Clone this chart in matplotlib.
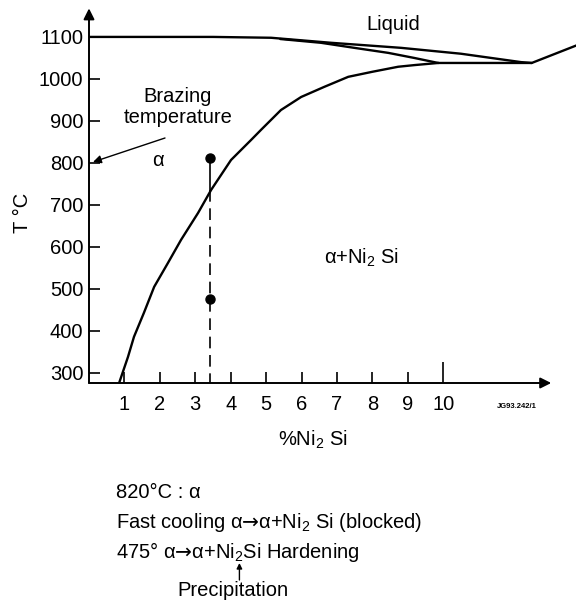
import numpy as np
import matplotlib
matplotlib.use("Agg")
import matplotlib.pyplot as plt

plt.rcParams['font.family'] = ['Liberation Sans', 'DejaVu Sans']
plt.rcParams['mathtext.fontset'] = 'custom'
plt.rcParams['mathtext.rm'] = 'Liberation Sans'
plt.rcParams['mathtext.sf'] = 'DejaVu Sans'
plt.rcParams['mathtext.default'] = 'regular'

# liquidus (upper line) and solidus (lower branch) near the top
liq_x = [0.0, 1.5, 3.5, 5.14, 6.84, 8.81, 10.5, 12.2, 12.5]
liq_T = [1100, 1100, 1100, 1098, 1086, 1074, 1060, 1040, 1038]
sol_x = [5.4, 6.55, 7.49, 8.45, 9.18, 9.86]
sol_T = [1095, 1086, 1074, 1062, 1050, 1038]
# eutectic horizontal + right rising branch
eut_x = [9.86, 12.5, 13.8]
eut_T = [1038, 1038, 1081]
# solvus of Ni2Si in alpha
solv_x = [0.85, 1.10, 1.27, 1.55, 1.84, 2.23, 2.60, 3.08, 3.45, 4.01, 4.58, 4.86,
          5.42, 5.99, 6.64, 7.32, 8.0, 8.73, 9.2, 9.86]
solv_T = [276, 338, 386, 443, 505, 562, 617, 681, 736, 807, 855, 879,
          926, 957, 981, 1005, 1017, 1029, 1033, 1038]

alloy_x = 3.42
dots_T = [812, 475]
solvus_at_alloy = 736

yticks = [300, 400, 500, 600, 700, 800, 900, 1000, 1100]
xticks = [1, 2, 3, 4, 5, 6, 7, 8, 9, 10]

W, H = 576, 602
fig = plt.figure(figsize=(W / 100, H / 100), dpi=100)
ax = fig.add_axes([89 / W, (H - 383) / H, 487 / W, 378 / H])
ax.set_xlim(0, 13.75)
ax.set_ylim(276, 1176)

for s in ax.spines.values():
    s.set_visible(False)

# axes with arrow heads
ax.annotate('', xy=(0, 1168), xytext=(0, 276),
            arrowprops=dict(arrowstyle='-|>', lw=1.4, color='black', mutation_scale=16, shrinkA=0, shrinkB=0))
ax.annotate('', xy=(13.05, 276), xytext=(0, 276),
            arrowprops=dict(arrowstyle='-|>', lw=1.4, color='black', mutation_scale=16, shrinkA=0, shrinkB=0))

fs = 14.5
ax.set_yticks(yticks)
ax.set_xticks(xticks)
ax.tick_params(direction='in', length=8, width=1.2, labelsize=fs, pad=4)
ax.tick_params(axis='x', pad=9)
ax.xaxis.get_major_ticks()[-1].tick1line.set_markersize(15)

kw = dict(color='black', lw=1.7, solid_capstyle='round', solid_joinstyle='round')
ax.plot(liq_x, liq_T, **kw)
ax.plot(sol_x, sol_T, **kw)
ax.plot(eut_x, eut_T, clip_on=False, **kw)
ax.plot(solv_x, solv_T, **kw)

ax.plot([alloy_x, alloy_x], [dots_T[0], solvus_at_alloy], color='black', lw=1.2)
ax.plot([alloy_x, alloy_x], [solvus_at_alloy, 276], color='black', lw=1.2, dashes=(7, 4))
ax.plot([alloy_x] * 2, dots_T, 'o', color='black', ms=6.5)

def px(x, y):
    return x / W, 1 - y / H

arrow = r'$\mathsf{→}$'

fig.text(*px(393, 25), 'Liquid', ha='center', va='center', fontsize=fs)
fig.text(*px(178, 107), 'Brazing\ntemperature', ha='center', va='center', fontsize=fs, linespacing=1.1)
ax.annotate('', xy=(93, H - 162), xytext=(165, H - 138), xycoords='figure pixels', textcoords='figure pixels',
            arrowprops=dict(arrowstyle='-|>', lw=1.0, color='black', mutation_scale=12, shrinkA=0, shrinkB=0))
fig.text(*px(158, 160), 'α', ha='center', va='center', fontsize=fs)
fig.text(*px(362, 258), 'α+Ni$_2$ Si', ha='center', va='center', fontsize=fs)
fig.text(*px(22, 213), 'T °C', ha='center', va='center', fontsize=fs, rotation=90)
fig.text(*px(313, 440), '%Ni$_2$ Si', ha='center', va='center', fontsize=fs)
fig.text(*px(517, 406), 'JG93.242/1', ha='center', va='center', fontsize=5.5, fontweight='bold')

x0 = 116
fig.text(*px(x0, 493), '820°C : α', ha='left', va='center', fontsize=fs)
fig.text(*px(x0, 522), 'Fast cooling α' + arrow + 'α+Ni$_2$ Si (blocked)', ha='left', va='center', fontsize=fs)
fig.text(*px(x0, 552), '475° α' + arrow + 'α+Ni$_2$Si Hardening', ha='left', va='center', fontsize=fs)

# locate the subscript "2" of the third line
r = fig.canvas.get_renderer()
def width(s):
    t = fig.text(0, 0, s, fontsize=fs)
    w = t.get_window_extent(r).width
    t.remove()
    return w
x_two = x0 + width('475° α' + arrow + 'α+Ni') + width('$_2$') / 2

ax.annotate('', xy=(x_two, H - 563), xytext=(x_two, H - 580), xycoords='figure pixels', textcoords='figure pixels',
            arrowprops=dict(arrowstyle='-|>', lw=1.0, color='black', mutation_scale=8, shrinkA=0, shrinkB=0))
fig.text(*px(x_two - 6, 590), 'Precipitation', ha='center', va='center', fontsize=fs)

fig.savefig('out.png', dpi=100)
